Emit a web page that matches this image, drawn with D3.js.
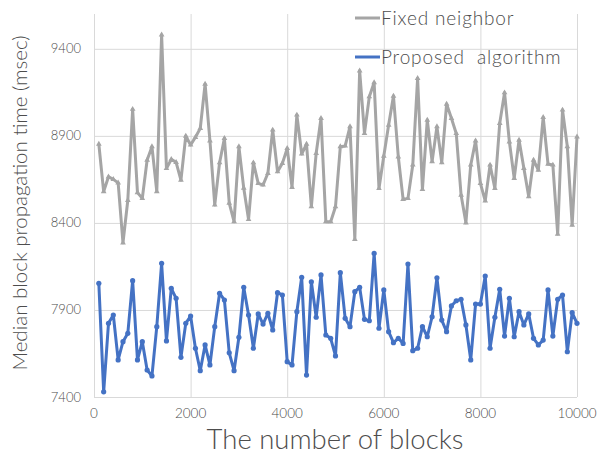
<!DOCTYPE html>
<html>
<head>
<meta charset="utf-8">
<script src="https://cdn.jsdelivr.net/npm/d3@7"></script>
<style>
  body { margin: 0; background: #fff; }
  text { font-family: Lato, "Noto Sans", sans-serif; font-weight: 300; fill: #4d4d4d; }
  .grid line { stroke: #d9d9d9; stroke-width: 1; }
  .grid path { display: none; }
</style>
</head>
<body>
<script>

// blocks (x) for both series
var blocks = d3.range(1, 101).map(function(i) { return i * 100; });

var fixedNeighbor = [
  8853, 8580, 8665, 8650, 8630, 8286, 8530, 9053, 8574, 8541,
  8761, 8838, 8580, 9480, 8713, 8765, 8748, 8646, 8899, 8848,
  8892, 8943, 9198, 8872, 8503, 8746, 8886, 8514, 8407, 8838,
  8600, 8420, 8746, 8627, 8618, 8685, 8934, 8694, 8742, 8828,
  8604, 9020, 8796, 8853, 8493, 8800, 9001, 8407, 8407, 8493,
  8838, 8842, 8953, 8306, 9274, 8914, 9125, 9206, 8598, 8784,
  8962, 9129, 8780, 8535, 8541, 8733, 9231, 8593, 8991, 8752,
  8953, 8746, 9083, 9001, 8914, 8560, 8401, 8733, 8872, 8627,
  8527, 8733, 8598, 8972, 9148, 8866, 8656, 8876, 8714, 8551,
  8761, 8704, 9007, 8738, 8733, 8336, 9049, 8838, 8388, 8895
];

var proposed = [
  8053, 7430, 7823, 7871, 7613, 7718, 7766, 8068, 7613, 7718,
  7555, 7521, 7804, 8168, 7722, 8024, 7967, 7628, 7823, 7865,
  7680, 7551, 7699, 7584, 7804, 7996, 7957, 7654, 7551, 7743,
  8030, 7871, 7680, 7877, 7819, 7881, 7785, 7999, 7986, 7603,
  7584, 7890, 8088, 7526, 8062, 7858, 8101, 7756, 7737, 7636,
  8114, 7852, 7804, 8005, 8030, 7846, 7838, 8225, 7795, 8015,
  7775, 7712, 7737, 7708, 8164, 7666, 7680, 7804, 7746, 7861,
  8085, 7842, 7775, 7923, 7953, 7961, 7814, 7613, 7934, 7934,
  8095, 7680, 7858, 8019, 7750, 7967, 7746, 7890, 7814, 7877,
  7737, 7699, 7727, 8015, 7750, 7961, 7986, 7660, 7885, 7823
];

var xTicks = [0, 2000, 4000, 6000, 8000, 10000];
var yTicks = [7400, 7900, 8400, 8900, 9400];
var seriesNames = ["Fixed neighbor", "Proposed  algorithm"];
var seriesColors = ["#a5a5a5", "#4472c4"];

var width = 597, height = 454;

var x = d3.scaleLinear()
    .domain([0, 10000])
    .range([94, 577]);
var y = d3.scaleLinear()
    .domain([7400, 9600])
    .range([397, 14]);

var svg = d3.select("body").append("svg")
    .attr("width", width)
    .attr("height", height);

// gridlines
svg.append("g")
    .attr("class", "grid")
    .attr("transform", "translate(0," + y(7400) + ")")
    .call(d3.axisBottom(x).tickValues(xTicks).tickSize(-(y(7400) - y(9600))).tickFormat(""));
svg.append("g")
    .attr("class", "grid")
    .attr("transform", "translate(" + x(0) + ",0)")
    .call(d3.axisLeft(y).tickValues(yTicks).tickSize(-(x(10000) - x(0))).tickFormat(""));

// tick labels
svg.append("g")
    .selectAll("text")
    .data(xTicks)
    .enter()
    .append("text")
    .attr("x", function(d) { return x(d); })
    .attr("y", 418)
    .attr("text-anchor", "middle")
    .style("font-size", "13.5px")
    .text(function(d) { return d; });

svg.append("g")
    .selectAll("text")
    .data(yTicks)
    .enter()
    .append("text")
    .attr("x", 81)
    .attr("y", function(d) { return y(d) + 4.5; })
    .attr("text-anchor", "end")
    .style("font-size", "13px")
    .text(function(d) { return d; });

// axis titles
svg.append("text")
    .attr("x", 335)
    .attr("y", 449)
    .attr("text-anchor", "middle")
    .style("font-size", "27.5px")
    .text("The number of blocks");

svg.append("text")
    .attr("transform", "translate(27,203) rotate(-90)")
    .attr("text-anchor", "middle")
    .style("font-size", "20.5px")
    .text("Median block propagation time (msec)");

// lines
var line = d3.line()
    .x(function(d, i) { return x(blocks[i]); })
    .y(function(d) { return y(d); });

svg.append("path")
    .attr("d", line(fixedNeighbor))
    .attr("fill", "none")
    .attr("stroke", seriesColors[0])
    .attr("stroke-width", 3)
    .attr("stroke-linejoin", "round");

svg.append("g")
    .selectAll("path")
    .data(fixedNeighbor)
    .enter()
    .append("path")
    .attr("d", d3.symbol().type(d3.symbolTriangle).size(14))
    .attr("transform", function(d, i) { return "translate(" + x(blocks[i]) + "," + y(d) + ")"; })
    .attr("fill", seriesColors[0]);

svg.append("path")
    .attr("d", line(proposed))
    .attr("fill", "none")
    .attr("stroke", seriesColors[1])
    .attr("stroke-width", 3)
    .attr("stroke-linejoin", "round");

svg.append("g")
    .selectAll("circle")
    .data(proposed)
    .enter()
    .append("circle")
    .attr("cx", function(d, i) { return x(blocks[i]); })
    .attr("cy", function(d) { return y(d); })
    .attr("r", 2.6)
    .attr("fill", seriesColors[1]);

// legend
var legend = svg.append("g")
    .selectAll("g")
    .data(seriesNames)
    .enter()
    .append("g")
    .attr("transform", function(d, i) { return "translate(355," + (18 + i * 39) + ")"; });

legend.append("line")
    .attr("x1", 0)
    .attr("x2", 25)
    .attr("stroke", function(d, i) { return seriesColors[i]; })
    .attr("stroke-width", 3);

legend.append("text")
    .attr("x", 26)
    .attr("y", 6.5)
    .style("font-size", "19px")
    .style("letter-spacing", "0.85px")
    .style("white-space", "pre")
    .text(function(d) { return d; });

</script>
</body>
</html>
